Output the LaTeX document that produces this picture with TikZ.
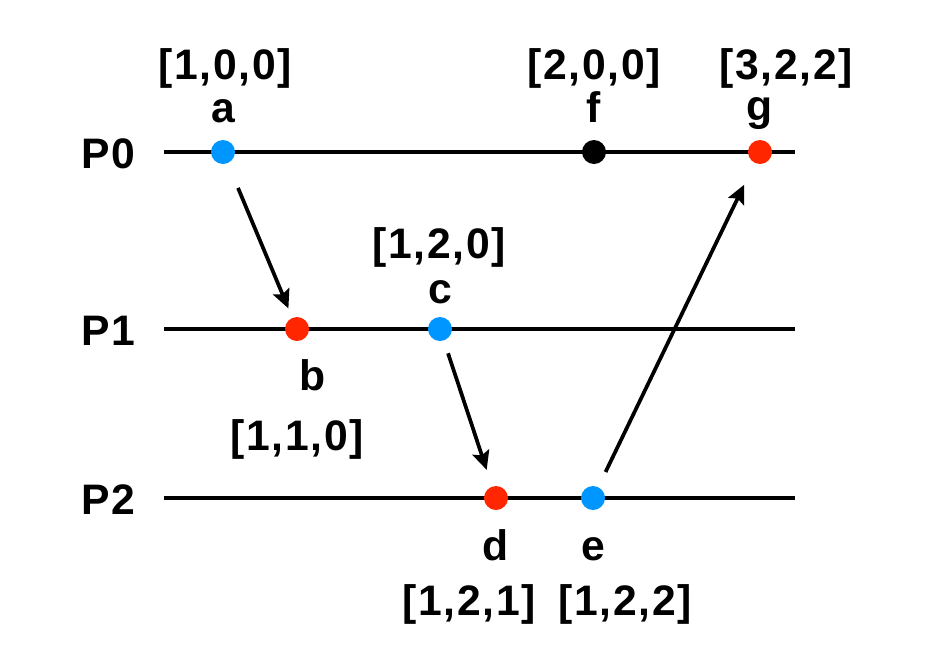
\documentclass[tikz,border=0pt]{standalone}
\usepackage{fontspec}
\setmainfont{Liberation Sans}[LetterSpace=4]
\usepackage{tikz}
\usetikzlibrary{arrows.meta}
\definecolor{evblue}{RGB}{0,150,255}
\definecolor{evred}{RGB}{255,38,0}
\tikzstyle{msg} = [line width=2.8pt,-{Stealth[length=14pt,width=13pt,inset=2.5pt]}]
\tikzstyle{timeline} = [line width=2.6pt]
\tikzstyle{event} = [circle,minimum size=18pt,inner sep=0pt]
\tikzstyle{lbl} = [anchor=base,inner sep=0pt,font=\fontsize{32pt}{38pt}\selectfont\bfseries]

\begin{document}
\begin{tikzpicture}[x=0.75pt,y=-0.75pt]
            \useasboundingbox (0,0) rectangle (946,668);
            % processes
            \node[lbl] (p0) at (108,168) {P0};
            \node[lbl] (p1) at (108,345) {P1};
            \node[lbl] (p2) at (108,514) {P2};
            \coordinate (l0) at (164,152); \coordinate (r0) at (795,152);
            \coordinate (l1) at (164,329); \coordinate (r1) at (795,329);
            \coordinate (l2) at (164,498); \coordinate (r2) at (795,498);
            \draw[timeline] (l0) -- (r0);
            \draw[timeline] (l1) -- (r1);
            \draw[timeline] (l2) -- (r2);
            % events
            \node[event, fill=evblue] (a) at (223,152) {};
            \node[event, fill=black] (f) at (594,152) {};
            \node[event, fill=evred] (g) at (760,152) {};
            \node[event, fill=evred] (b) at (297,329) {};
            \node[event, fill=evblue] (c) at (440,329) {};
            \node[event, fill=evred] (d) at (496,498) {};
            \node[event, fill=evblue] (e) at (593,498) {};
            % names and vector clocks
            \node[lbl] (na) at (223,122) {a};
            \node[lbl] (va) at (225,79) {[1,0,0]};
            \node[lbl] (nf) at (594,122) {f};
            \node[lbl] (vf) at (594,79) {[2,0,0]};
            \node[lbl] (ng) at (760,120) {g};
            \node[lbl] (vg) at (786,79) {[3,2,2]};
            \node[lbl] (nc) at (440,303) {c};
            \node[lbl] (vc) at (439,258) {[1,2,0]};
            \node[lbl] (nb) at (313,390) {b};
            \node[lbl] (vb) at (297,450) {[1,1,0]};
            \node[lbl] (nd) at (496,560) {d};
            \node[lbl] (vd) at (469,615) {[1,2,1]};
            \node[lbl] (ne) at (593,560) {e};
            \node[lbl] (ve) at (625,615) {[1,2,2]};
            % messages
            \draw[msg, shorten <=20pt, shorten >=7.5pt] (a) -- (b);
            \draw[msg, shorten <=10pt, shorten >=13pt] (c) -- (d);
            \draw[msg, shorten <=12.5pt, shorten >=18pt] (e) -- (g);
        \end{tikzpicture}
\end{document}
